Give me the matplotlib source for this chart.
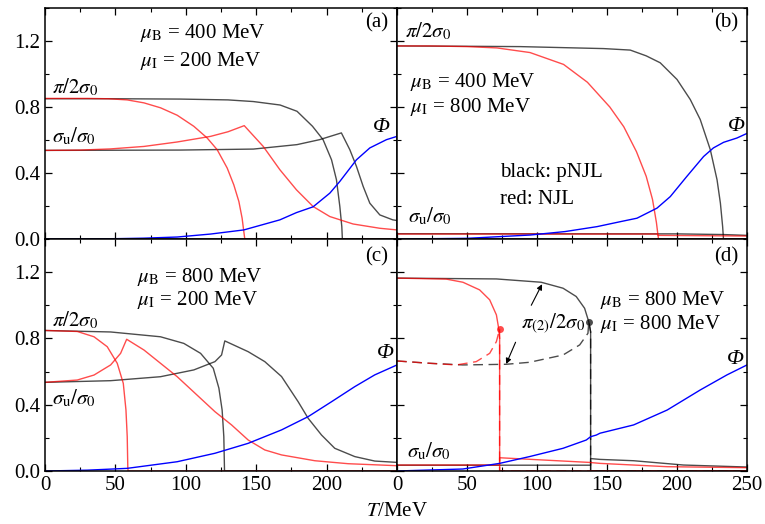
import numpy as np
import matplotlib.pyplot as plt
from matplotlib.ticker import MultipleLocator

plt.rcParams['font.family'] = 'serif'
plt.rcParams['font.serif'] = ['Liberation Serif', 'DejaVu Serif']
plt.rcParams['mathtext.fontset'] = 'stix'
plt.rcParams['font.size'] = 15

# ---- panel (a): muB = 400, muI = 200 ----
Ta_pi_k = [0, 50, 96, 130, 148, 167, 179, 190, 197.5, 203.5, 207, 209.4, 210.8, 211.2, 250]
a_pi_k = [0.85, 0.85, 0.848, 0.843, 0.833, 0.812, 0.774, 0.683, 0.602, 0.48, 0.359, 0.197, 0.075, 0, 0]
Ta_sig_k = [0, 50, 96, 148, 179, 195, 210.5, 216.5, 221.2, 226, 230.7, 237.8, 247, 250]
a_sig_k = [0.537, 0.538, 0.539, 0.545, 0.572, 0.602, 0.643, 0.541, 0.44, 0.318, 0.217, 0.146, 0.116, 0.112]
Ta_pi_r = [0, 30, 45, 58.4, 70.3, 82.1, 93.9, 105.7, 115.2, 122.3, 129.4, 134.1, 137.7, 140, 141.2, 141.9, 250]
a_pi_r = [0.852, 0.852, 0.85, 0.843, 0.825, 0.795, 0.75, 0.683, 0.612, 0.541, 0.43, 0.328, 0.227, 0.126, 0.045, 0, 0]
Ta_sig_r = [0, 25, 46.6, 70.3, 93.9, 117.6, 130, 141.5, 155, 166.8, 178.6, 190.4, 202.3, 218.8, 237.8, 250]
a_sig_r = [0.537, 0.539, 0.546, 0.561, 0.588, 0.622, 0.65, 0.687, 0.561, 0.42, 0.298, 0.197, 0.136, 0.091, 0.065, 0.055]
Ta_phi = [0, 50, 70.3, 93.9, 117.6, 141.2, 166.8, 178.6, 190.4, 202.3, 209.4, 221.2, 230.7, 242.5, 250]
a_phi = [0, 0.002, 0.005, 0.012, 0.03, 0.055, 0.116, 0.16, 0.195, 0.278, 0.349, 0.48, 0.552, 0.602, 0.622]

# ---- panel (b): muB = 400, muI = 800 ----
Tb_pi_k = [0, 50, 88, 147.6, 166.6, 178, 188, 200, 209.5, 216.6, 223.8, 228.6, 231, 232.6, 233.2, 250]
b_pi_k = [1.17, 1.168, 1.166, 1.154, 1.145, 1.11, 1.068, 0.967, 0.845, 0.724, 0.541, 0.359, 0.217, 0.075, 0, 0]
Tb_pi_r = [0, 24, 50, 71.4, 95, 119, 136, 152, 162, 171, 178, 182.5, 185.3, 186.4, 186.8, 250]
b_pi_r = [1.17, 1.17, 1.166, 1.158, 1.13, 1.058, 0.95, 0.8, 0.68, 0.53, 0.38, 0.24, 0.1, 0.024, 0, 0]
Tb_sig_k = [0, 200, 233, 250]
b_sig_k = [0.032, 0.031, 0.027, 0.022]
Tb_sig_r = [0, 186, 186.5, 250]
b_sig_r = [0.03, 0.03, 0.022, 0.018]
Tb_phi = [0, 50, 95, 120, 142.9, 159.5, 171.4, 185.7, 195.2, 207, 219, 226, 233.3, 242.8, 250]
b_phi = [0, 0.004, 0.024, 0.045, 0.075, 0.105, 0.126, 0.187, 0.257, 0.379, 0.5, 0.552, 0.586, 0.612, 0.64]

# ---- panel (c): muB = 800, muI = 200 ----
Tc_pi_k = [0, 46.6, 82, 98.6, 110.5, 119.5, 123.5, 125.8, 127, 127.5, 250]
c_pi_k = [0.848, 0.839, 0.81, 0.77, 0.71, 0.62, 0.5, 0.368, 0.207, 0, 0]
Tc_sig_k = [0, 46.6, 82, 105.7, 120.7, 125.4, 127.7, 144.3, 156.1, 168, 179.8, 186.9, 196.4, 205.8, 220, 234.2, 250]
c_sig_k = [0.535, 0.545, 0.569, 0.61, 0.66, 0.70, 0.785, 0.72, 0.66, 0.57, 0.418, 0.318, 0.217, 0.137, 0.087, 0.06, 0.052]
Tc_pi_r = [0, 22.9, 34.8, 44.2, 51.3, 55.6, 57.5, 58.4, 58.8, 59, 250]
c_pi_r = [0.848, 0.842, 0.81, 0.75, 0.65, 0.529, 0.368, 0.207, 0.026, 0, 0]
Tc_sig_r = [0, 22.9, 34.8, 46.6, 53.7, 58, 70.3, 93.9, 120.7, 132.5, 144.3, 156.1, 168, 191.6, 215.3, 250]
c_sig_r = [0.535, 0.549, 0.579, 0.64, 0.71, 0.795, 0.73, 0.569, 0.358, 0.278, 0.187, 0.127, 0.097, 0.062, 0.044, 0.032]
Tc_phi = [0, 30, 58.4, 93.9, 120.7, 144.3, 168, 186.9, 203.5, 220, 234.2, 250]
c_phi = [0, 0.005, 0.016, 0.056, 0.107, 0.167, 0.248, 0.328, 0.418, 0.509, 0.58, 0.64]

# ---- panel (d): muB = 800, muI = 800 ----
Td_pi_k = [0, 71, 103, 118.6, 128, 134, 137, 138.3, 138.3, 250]
d_pi_k = [1.164, 1.159, 1.139, 1.103, 1.053, 0.982, 0.90, 0.84, 0, 0]
Td_pi2_k = [0, 23.3, 47, 78, 94.7, 118.6, 130.5, 136.4, 137, 138.3, 138.3, 250]
d_pi2_k = [0.664, 0.65, 0.64, 0.644, 0.656, 0.70, 0.761, 0.831, 0.90, 0.84, 0, 0]
Td_pi_r = [0, 35.2, 47.1, 59, 66.2, 71, 72.6, 73.3, 73.3, 250]
d_pi_r = [1.164, 1.158, 1.139, 1.093, 1.033, 0.942, 0.862, 0.80, 0, 0]
Td_pi2_r = [0, 23.3, 42.4, 56.6, 66.2, 71, 73.3, 73.3, 250]
d_pi2_r = [0.664, 0.65, 0.64, 0.66, 0.71, 0.781, 0.857, 0, 0]
Td_sig_k = [0, 138.3, 138.3, 145, 169, 204.7, 250]
d_sig_k = [0.035, 0.035, 0.075, 0.07, 0.062, 0.036, 0.024]
Td_sig_r = [0, 73.3, 73.3, 137, 145, 193, 250]
d_sig_r = [0.036, 0.036, 0.08, 0.052, 0.046, 0.026, 0.02]
Td_phi = [0, 47, 73.3, 94.7, 118.6, 135.2, 138.3, 142.4, 145, 169, 193, 216.6, 235.7, 250]
d_phi = [0, 0.012, 0.046, 0.087, 0.137, 0.187, 0.207, 0.217, 0.228, 0.278, 0.368, 0.489, 0.58, 0.64]
d_dot_k = (137, 0.90)
d_dot_r = (73.3, 0.857)

KC = (0, 0, 0, 0.7)
RC = (1, 0, 0, 0.7)
BC = 'blue'
LW = 1.0
DASH = (7, 4)

fig = plt.figure(figsize=(7.65, 5.24), dpi=100)
W1, W2 = 352 / 765, 350 / 765
X1, X2 = 45 / 765, 397 / 765
H1, H2 = 231 / 524, 232 / 524
Y1, Y2 = 1 - 239 / 524, 1 - 471 / 524
ax_a = fig.add_axes([X1, Y1, W1, H1])
ax_b = fig.add_axes([X2, Y1, W2, H1])
ax_c = fig.add_axes([X1, Y2, W1, H2])
ax_d = fig.add_axes([X2, Y2, W2, H2])

for ax in (ax_a, ax_b, ax_c, ax_d):
    ax.set_xlim(0, 250)
    ax.set_ylim(0, 1.4)
    ax.xaxis.set_major_locator(MultipleLocator(50))
    ax.xaxis.set_minor_locator(MultipleLocator(25))
    ax.yaxis.set_major_locator(MultipleLocator(0.4))
    ax.yaxis.set_minor_locator(MultipleLocator(0.2))
    ax.tick_params(which='both', direction='in', top=True, right=True, labelsize=15,
                   labelfontfamily='Liberation Serif')
    ax.tick_params(which='major', length=5, width=0.9)
    ax.tick_params(which='minor', length=3, width=0.8)
    for s in ax.spines.values():
        s.set_linewidth(1.1)

ax_a.tick_params(labelbottom=False)
ax_b.tick_params(labelbottom=False, labelleft=False)
ax_d.tick_params(labelleft=False)
ax_a.set_yticks([0, 0.4, 0.8, 1.2], ['0.0', '0.4', '0.8', '1.2'])
ax_c.set_yticks([0, 0.4, 0.8, 1.2], ['0.0', '0.4', '0.8', '1.2'])
ax_c.set_xticks([0, 50, 100, 150, 200, 250], ['0', '50', '100', '150', '200', ''])

phi_kw = dict(va='center', style='italic', fontsize=16)

# (a)
ax_a.plot(Ta_pi_k, a_pi_k, color=KC, lw=LW)
ax_a.plot(Ta_sig_k, a_sig_k, color=KC, lw=LW)
ax_a.plot(Ta_pi_r, a_pi_r, color=RC, lw=LW)
ax_a.plot(Ta_sig_r, a_sig_r, color=RC, lw=LW)
ax_a.plot(Ta_phi, a_phi, color=BC, lw=LW)
ax_a.text(67.4, 1.25, r'$\mu_{\rm B}$ = 400 MeV', va='center')
ax_a.text(67.4, 1.08, r'$\mu_{\rm I}$ = 200 MeV', va='center')
ax_a.text(4.7, 0.92, r'$\pi/2\sigma_0$', va='center')
ax_a.text(4.7, 0.62, r'$\sigma_{\rm u}/\sigma_0$', va='center')
ax_a.text(233, 0.675, 'Φ', **phi_kw)
ax_a.text(244, 1.31, '(a)', ha='right', va='center')

# (b)
ax_b.plot(Tb_pi_k, b_pi_k, color=KC, lw=LW)
ax_b.plot(Tb_sig_k, b_sig_k, color=KC, lw=LW)
ax_b.plot(Tb_pi_r, b_pi_r, color=RC, lw=LW)
ax_b.plot(Tb_sig_r, b_sig_r, color=RC, lw=LW)
ax_b.plot(Tb_phi, b_phi, color=BC, lw=LW)
ax_b.text(6, 1.26, r'$\pi/2\sigma_0$', va='center')
ax_b.text(9.5, 0.95, r'$\mu_{\rm B}$ = 400 MeV', va='center')
ax_b.text(9.5, 0.80, r'$\mu_{\rm I}$ = 800 MeV', va='center')
ax_b.text(73.8, 0.40, 'black: pNJL', va='center')
ax_b.text(73.8, 0.237, 'red: NJL', va='center')
ax_b.text(8, 0.136, r'$\sigma_{\rm u}/\sigma_0$', va='center')
ax_b.text(236.7, 0.68, 'Φ', **phi_kw)
ax_b.text(244, 1.31, '(b)', ha='right', va='center')

# (c)
ax_c.plot(Tc_pi_k, c_pi_k, color=KC, lw=LW)
ax_c.plot(Tc_sig_k, c_sig_k, color=KC, lw=LW)
ax_c.plot(Tc_pi_r, c_pi_r, color=RC, lw=LW)
ax_c.plot(Tc_sig_r, c_sig_r, color=RC, lw=LW)
ax_c.plot(Tc_phi, c_phi, color=BC, lw=LW)
ax_c.text(65, 1.173, r'$\mu_{\rm B}$ = 800 MeV', va='center')
ax_c.text(65, 1.03, r'$\mu_{\rm I}$ = 200 MeV', va='center')
ax_c.text(4.7, 0.91, r'$\pi/2\sigma_0$', va='center')
ax_c.text(4.7, 0.44, r'$\sigma_{\rm u}/\sigma_0$', va='center')
ax_c.text(235.4, 0.71, 'Φ', **phi_kw)
ax_c.text(244, 1.29, '(c)', ha='right', va='center')

# (d)
ax_d.plot(Td_pi2_k, d_pi2_k, color=KC, lw=LW, dashes=DASH)
ax_d.plot(Td_pi_k, d_pi_k, color=KC, lw=LW)
ax_d.plot(Td_sig_k, d_sig_k, color=KC, lw=LW)
ax_d.plot(Td_pi2_r, d_pi2_r, color=RC, lw=LW, dashes=DASH)
ax_d.plot(Td_pi_r, d_pi_r, color=RC, lw=LW)
ax_d.plot(Td_sig_r, d_sig_r, color=RC, lw=LW)
ax_d.plot(Td_phi, d_phi, color=BC, lw=LW)
ax_d.plot(*d_dot_k, 'o', color=KC, ms=5, mec='none')
ax_d.plot(*d_dot_r, 'o', color=RC, ms=5, mec='none')
arr = dict(arrowstyle='-|>', color='k', lw=0.8, mutation_scale=8, shrinkA=0, shrinkB=0)
ax_d.annotate('', xy=(103.6, 1.127), xytext=(95.9, 1.0), arrowprops=arr)
ax_d.annotate('', xy=(78, 0.646), xytext=(84.7, 0.777), arrowprops=arr)
ax_d.text(134, 0.89, r'$\pi_{(2)}/2\sigma_0$', ha='right', va='center')
ax_d.text(145.2, 1.03, r'$\mu_{\rm B}$ = 800 MeV', va='center')
ax_d.text(145.2, 0.89, r'$\mu_{\rm I}$ = 800 MeV', va='center')
ax_d.text(7, 0.117, r'$\sigma_{\rm u}/\sigma_0$', va='center')
ax_d.text(235.7, 0.67, 'Φ', **phi_kw)
ax_d.text(244, 1.29, '(d)', ha='right', va='center')

fig.text(397 / 765, 1 - 511 / 524, r'$T$/MeV', ha='center', va='center', fontsize=15)

fig.savefig('out.png', dpi=100)
